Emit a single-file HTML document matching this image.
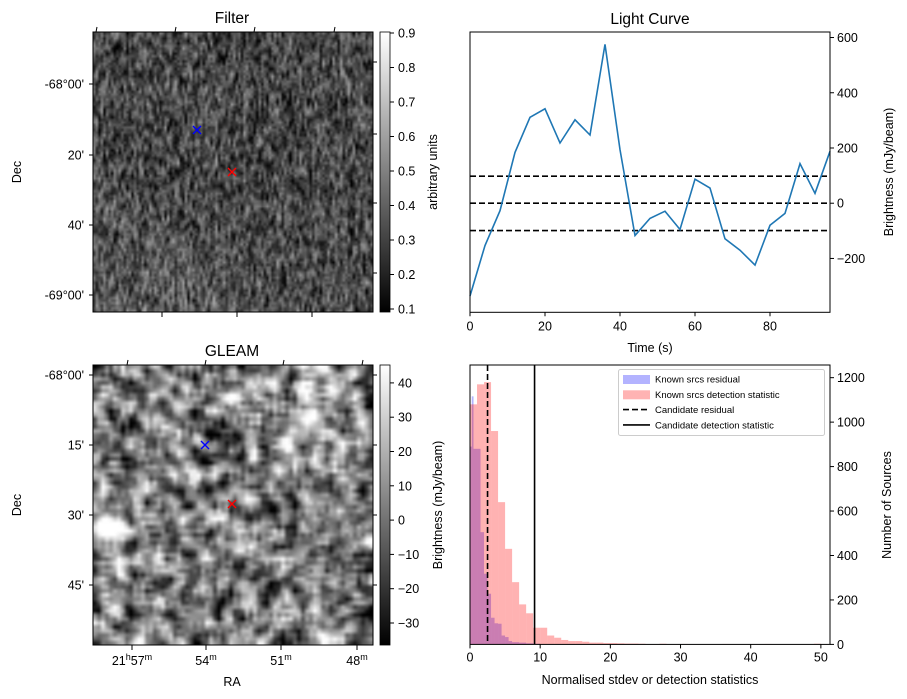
<!DOCTYPE html>
<html><head><meta charset="utf-8">
<style>
html,body{margin:0;padding:0;background:#fff;width:907px;height:699px;overflow:hidden}
#root{position:relative;width:907px;height:699px}
canvas{position:absolute}
svg{position:absolute;left:0;top:0}
text{font-family:"Liberation Sans","DejaVu Sans",sans-serif;fill:#000}
</style></head>
<body>
<div id="root">
<canvas id="filterImg" width="280" height="280" style="left:93px;top:32px"></canvas>
<canvas id="gleamImg" width="280" height="280" style="left:93px;top:365px"></canvas>
<svg id="svg" width="907" height="699" xmlns="http://www.w3.org/2000/svg">
<defs>
<linearGradient id="cb1" x1="0" y1="1" x2="0" y2="0"><stop offset="0" stop-color="#000"/><stop offset="1" stop-color="#fff"/></linearGradient>
</defs>
</svg>
</div>
<script>
// ---- Light curve data ----
const lcTimes = [0,4,8,12,16,20,24,28,32,36,40,44,48,52,56,60,64,68,72,76,80,84,88,92,96];
const lcValues = [-336,-153,-27,184,311,342,218,302,247,575,194,-117,-55,-29,-95,87,55,-129,-170,-224,-80,-37,143,36,188];
const lcThresholds = [98,0,-99];
const lcXTicks = [0,20,40,60,80];
const lcYTicks = [-200,0,200,400,600];

// ---- Histogram data ----
const redBinEdges = [0,1,2,3,4,5,6,7,8,9,10,11,12,13,14,15,16,17,18,19,20,21,22,23,24,25,27,28,30,31,36,37,42,43,49,50];
const redCounts = [1080,1170,1180,960,640,430,280,180,140,75,75,40,30,20,15,15,12,8,8,6,6,5,4,4,3,0,3,0,2,0,2,0,2,0,3];
const blueBinEdges = [0,0.25,0.5,1,1.5,2,2.5,3,3.5,4,4.5,5,5.5,6,7,8,9,10];
const blueCounts = [890,1116,880,880,505,318,228,120,95,93,40,33,15,10,8,5,3];
const candResidual = 2.5;
const candDetection = 9.2;
const histXTicks = [0,10,20,30,40,50];
const histYTicks = [0,200,400,600,800,1000,1200];

// colorbar ticks
const filterCbTicks = [0.1,0.2,0.3,0.4,0.5,0.6,0.7,0.8,0.9];
const gleamCbTicks = [-30,-20,-10,0,10,20,30,40];

const svg = document.getElementById('svg');
const NS = 'http://www.w3.org/2000/svg';
function mk(tag, attrs, parent){const e=document.createElementNS(NS,tag);for(const k in attrs)e.setAttribute(k,attrs[k]);(parent||svg).appendChild(e);return e;}
function txt(s,x,y,opt,parent){const e=mk('text',Object.assign({x:x,y:y,'font-size':13},opt||{}),parent);e.textContent=s;return e;}

// ===== Light curve =====
const LC={x0:470,x1:830,y0:32,y1:312.3,xmin:0,xmax:96,ymin:-395,ymax:620};
const lx=v=>LC.x0+(v-LC.xmin)/(LC.xmax-LC.xmin)*(LC.x1-LC.x0);
const ly=v=>LC.y1-(v-LC.ymin)/(LC.ymax-LC.ymin)*(LC.y1-LC.y0);
const lcG=mk('g',{});


lcThresholds.forEach(t=>{
  const l=mk('line',{x1:LC.x0,x2:LC.x1,y1:ly(t),y2:ly(t),stroke:'#000','stroke-width':1.6,'stroke-dasharray':'6,3'},lcG);
  
  
});
let pts=lcTimes.map((t,i)=>lx(t).toFixed(1)+','+ly(lcValues[i]).toFixed(1)).join(' ');
const pl=mk('polyline',{points:pts,fill:'none',stroke:'#1f77b4','stroke-width':1.6},lcG);


mk('rect',{x:LC.x0,y:LC.y0,width:LC.x1-LC.x0,height:LC.y1-LC.y0,fill:'none',stroke:'#000','stroke-width':1},lcG);
lcXTicks.forEach(t=>{mk('line',{x1:lx(t),x2:lx(t),y1:LC.y1,y2:LC.y1+4,stroke:'#000'},lcG);const e=txt(t,lx(t),LC.y1+18,{'text-anchor':'middle','font-size':12.5},lcG);});
lcYTicks.forEach(t=>{mk('line',{x1:LC.x1,x2:LC.x1+4,y1:ly(t),y2:ly(t),stroke:'#000'},lcG);const e=txt(t<0?'\u2212'+(-t):t,LC.x1+7,ly(t)+4.5,{'font-size':12.5},lcG);});
let e;
e=txt('Light Curve',650,24,{'text-anchor':'middle','font-size':15.5},lcG);
e=txt('Time (s)',650,352,{'text-anchor':'middle','font-size':12.5},lcG);
e=txt('Brightness (mJy/beam)',0,0,{'text-anchor':'middle','font-size':12.5,transform:'translate(893,172) rotate(-90)'},lcG);

// ===== Histogram =====
const H={x0:470,x1:830,y0:365,y1:644.4,xmin:0,xmax:51.3,ymin:0,ymax:1257};
const hx=v=>H.x0+(v-H.xmin)/(H.xmax-H.xmin)*(H.x1-H.x0);
const hy=v=>H.y1-(v-H.ymin)/(H.ymax-H.ymin)*(H.y1-H.y0);
const hG=mk('g',{});


blueCounts.forEach((c,i)=>{if(c<=0)return;const r=mk('rect',{x:hx(blueBinEdges[i]),y:hy(c),width:hx(blueBinEdges[i+1])-hx(blueBinEdges[i]),height:H.y1-hy(c),fill:'#0000ff','fill-opacity':0.3},hG);});
redCounts.forEach((c,i)=>{if(c<=0)return;const r=mk('rect',{x:hx(redBinEdges[i]),y:hy(c),width:hx(redBinEdges[i+1])-hx(redBinEdges[i]),height:H.y1-hy(c),fill:'#ff0000','fill-opacity':0.3},hG);});
e=mk('line',{x1:hx(candResidual),x2:hx(candResidual),y1:H.y0,y2:H.y1,stroke:'#000','stroke-width':1.6,'stroke-dasharray':'6,3'},hG);
e=mk('line',{x1:hx(candDetection),x2:hx(candDetection),y1:H.y0,y2:H.y1,stroke:'#000','stroke-width':1.6},hG);
mk('rect',{x:H.x0,y:H.y0,width:H.x1-H.x0,height:H.y1-H.y0,fill:'none',stroke:'#000','stroke-width':1},hG);
histXTicks.forEach(t=>{mk('line',{x1:hx(t),x2:hx(t),y1:H.y1,y2:H.y1+4,stroke:'#000'},hG);const e=txt(t,hx(t),H.y1+17,{'text-anchor':'middle','font-size':12.5},hG);});
histYTicks.forEach(t=>{mk('line',{x1:H.x1,x2:H.x1+4,y1:hy(t),y2:hy(t),stroke:'#000'},hG);const e=txt(t,H.x1+7,hy(t)+4.5,{'font-size':12.5},hG);});
e=txt('Normalised stdev or detection statistics',650,684,{'text-anchor':'middle','font-size':12.5},hG);
e=txt('Number of Sources',0,0,{'text-anchor':'middle','font-size':12.5,transform:'translate(891,505) rotate(-90)'},hG);
// legend
const lg=mk('g',{},hG);


mk('rect',{x:618.5,y:369.5,width:206,height:66,rx:2,fill:'#fff','fill-opacity':0.8,stroke:'#ccc'},lg);
const legItems=[['Known srcs residual','bluepatch'],['Known srcs detection statistic','redpatch'],['Candidate residual','dash'],['Candidate detection statistic','solid']];
legItems.forEach((it,i)=>{const y=379+i*15.3;
  if(it[1]==='bluepatch')mk('rect',{x:623,y:y-4,width:27,height:9,fill:'#b3b3ff'},lg);
  if(it[1]==='redpatch')mk('rect',{x:623,y:y-4,width:27,height:9,fill:'#ffb3b3'},lg);
  if(it[1]==='dash')mk('line',{x1:623,x2:650,y1:y,y2:y,stroke:'#000','stroke-width':1.6,'stroke-dasharray':'6,3'},lg);
  if(it[1]==='solid')mk('line',{x1:623,x2:650,y1:y,y2:y,stroke:'#000','stroke-width':1.6},lg);
  const t=txt(it[0],655,y+3.5,{'font-size':9.5},lg);});

// ===== Image panels axes =====
function imgPanel(y0,title,decLabels,decYs,topTicks,botTicks,botLabels,cbTicks,cbMap,cbLabel,rightTicks){
  const g=mk('g',{});
  mk('rect',{x:93,y:y0,width:280,height:280,fill:'none',stroke:'#000'},g);
  let t=txt(title,232,y0-9,{'text-anchor':'middle','font-size':15.5},g);
  decLabels.forEach((s,i)=>{mk('line',{x1:89,x2:93,y1:decYs[i],y2:decYs[i],stroke:'#000'},g);const e=txt(s,84,decYs[i]+4.5,{'text-anchor':'end','font-size':12.5},g);});
  rightTicks.forEach(y=>mk('line',{x1:373,x2:377,y1:y,y2:y,stroke:'#000'},g));
  topTicks.forEach(x=>mk('line',{x1:x,x2:x+1,y1:y0,y2:y0-5,stroke:'#000'},g));
  botTicks.forEach((x,i)=>{mk('line',{x1:x,x2:x,y1:y0+280,y2:y0+285,stroke:'#000'},g);if(botLabels){const e=txt(botLabels[i],x,y0+300,{'text-anchor':'middle','font-size':12.5},g);}});
  t=txt('Dec',0,0,{'text-anchor':'middle','font-size':12.5,transform:'translate(21,'+(y0+140)+') rotate(-90)'},g);
  const cb=mk('rect',{x:380,y:y0,width:10,height:280,fill:'url(#cb1)',stroke:'#000','stroke-width':0.8},g);
  
  cbTicks.forEach(v=>{const y=cbMap(v);mk('line',{x1:390,x2:394,y1:y,y2:y,stroke:'#000'},g);const e=txt(v<0?'\u2212'+(-v):String(v),398,y+4.5,{'font-size':12.5},g);});
  t=txt(cbLabel,0,0,{'text-anchor':'middle','font-size':12.5,transform:'translate('+(cbLabel.length>15?442:437)+','+(y0+140)+') rotate(-90)'},g);
  return g;
}
const fg=imgPanel(32,'Filter',["-68°00'","20'","40'","-69°00'"],[84,155,225,295],[96,175,254,334],[162,237,312],null,filterCbTicks,v=>309-(v-0.1)/0.1*34.5,'arbitrary units',[62,134,203,273]);

const gg=imgPanel(365,'GLEAM',["-68°00'","15'","30'","45'"],[375,445,515,585],[127,205,283,362],[132,206,281,357],null,gleamCbTicks,v=>623-(v+30)/10*34.3,'Brightness (mJy/beam)',[375,445,515,585]);

// RA labels with superscripts
const raLab=[['21','h','57','m',132],['54','m','','',206],['51','m','','',281],['48','m','','',357]];
raLab.forEach(r=>{const t=mk('text',{x:r[4],y:665,'font-size':12.5,'text-anchor':'middle'});
  const a=mk('tspan',{},t);a.textContent=r[0];const b=mk('tspan',{'font-size':9,dy:-5},t);b.textContent=r[1];
  if(r[2]){const c=mk('tspan',{dy:5},t);c.textContent=r[2];const d=mk('tspan',{'font-size':9,dy:-5},t);d.textContent=r[3];}});
e=txt('RA',232,686,{'text-anchor':'middle','font-size':12.5});
// markers
function cross(x,y,c,name){const g=mk('g',{stroke:c,'stroke-width':1.4});mk('line',{x1:x-4,y1:y-4,x2:x+4,y2:y+4},g);mk('line',{x1:x-4,y1:y+4,x2:x+4,y2:y-4},g);}
cross(197,130,'#0000ff','filter-blue-marker');cross(232,172,'#ff0000','filter-red-marker');
cross(205,445,'#0000ff','gleam-blue-marker');cross(232,504,'#ff0000','gleam-red-marker');

// ===== textures =====
let seed=12345;function rnd(){seed=(seed*1103515245+12345)&0x7fffffff;return seed/0x7fffffff;}
function texture(id,n,blurX,blurY,base,amp,gradFn,blobs){
  const small=document.createElement('canvas');small.width=n;small.height=n;const sc=small.getContext('2d');
  let a=new Float32Array(n*n);for(let i=0;i<n*n;i++)a[i]=rnd()-0.5;
  function blur(arr,rx,ry){const o=new Float32Array(n*n);for(let y=0;y<n;y++)for(let x=0;x<n;x++){let s=0,c=0;for(let dy=-ry;dy<=ry;dy++)for(let dx=-rx;dx<=rx;dx++){const xx=x+dx,yy=y+dy;if(xx<0||yy<0||xx>=n||yy>=n)continue;s+=arr[yy*n+xx];c++;}o[y*n+x]=s/c;}return o;}
  a=blur(a,blurX,blurY);
  let sd=0;for(let i=0;i<n*n;i++)sd+=a[i]*a[i];sd=Math.sqrt(sd/(n*n));
  const im=sc.createImageData(n,n);
  for(let y=0;y<n;y++)for(let x=0;x<n;x++){let v=base+amp*a[y*n+x]/sd+gradFn(x/n,y/n);
    (blobs||[]).forEach(b=>{const d=((x/n-b[0])**2+(y/n-b[1])**2)/(b[2]*b[2]);v+=b[3]*Math.exp(-d);});
    v=Math.max(0,Math.min(255,v));const k=(y*n+x)*4;im.data[k]=im.data[k+1]=im.data[k+2]=v;im.data[k+3]=255;}
  sc.putImageData(im,0,0);
  const c=document.getElementById(id).getContext('2d');c.imageSmoothingEnabled=true;c.drawImage(small,0,0,280,280);
}
texture('filterImg',110,0,1,72,32,(x,y)=>Math.max(0,(y-0.5))*40*(1.2-x),[]);
texture('gleamImg',70,1,1,128,55,(x,y)=>0,[[0.06,0.58,0.06,160],[0.75,0.08,0.04,160],[0.49,0.12,0.03,120],[0.9,0.41,0.03,130],[0.45,0.58,0.03,110],[0.41,0.29,0.03,100]]);
</script>
</body></html>
